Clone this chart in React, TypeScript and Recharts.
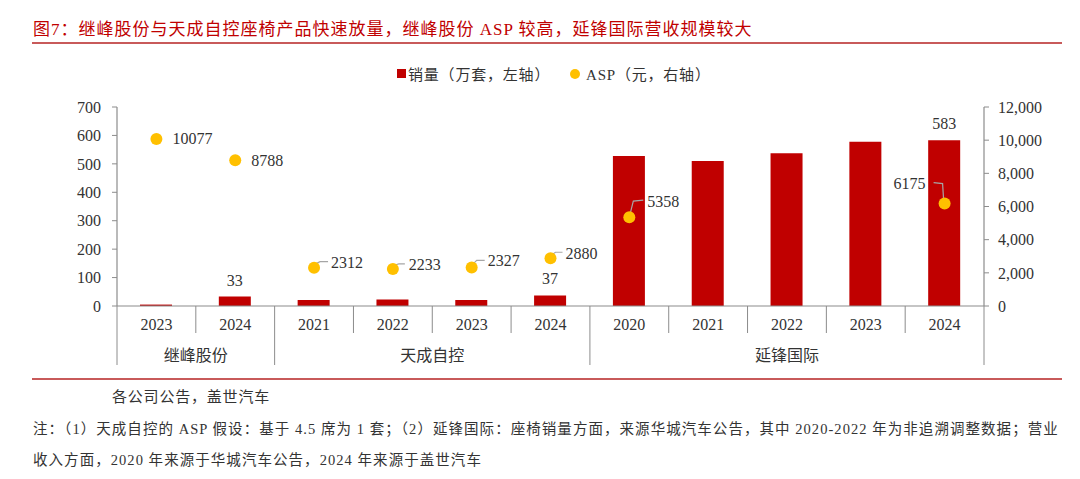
import React from 'react';
import { ComposedChart, Bar, Scatter, XAxis, YAxis, LabelList } from 'recharts';

// ---------- data ----------
const groups = ['继峰股份', '继峰股份', '天成自控', '天成自控', '天成自控', '天成自控', '延锋国际', '延锋国际', '延锋国际', '延锋国际', '延锋国际'];
const years = ['2023', '2024', '2021', '2022', '2023', '2024', '2020', '2021', '2022', '2023', '2024'];
const volume = [5, 33, 21, 23, 21, 37, 528, 510, 537, 578, 583];
const volumeLabels = ['', '33', '', '', '', '37', '', '', '', '', '583'];
const asp: (number | null)[] = [10077, 8788, 2312, 2233, 2327, 2880, 5358, null, null, null, 6175];
const leftTicks = [0, 100, 200, 300, 400, 500, 600, 700];
const rightTicks = [0, 2000, 4000, 6000, 8000, 10000, 12000];

const data = years.map((year, i) => ({
  key: `${groups[i]}-${year}-${i}`,
  i,
  year,
  group: groups[i],
  vol: volume[i],
  volLabel: volumeLabels[i],
  asp: asp[i],
}));

// ---------- layout / style ----------
const W = 1080;
const H = 479;
const MARGIN = { top: 107, right: 16, bottom: 113, left: 57 };
const LEFT_W = 60;
const RIGHT_W = 80;
const XAXIS_H = 60;
const PLOT_W = W - MARGIN.left - MARGIN.right - LEFT_W - RIGHT_W;
const BAND = PLOT_W / data.length;

const RED = '#C00000';
const GOLD = '#FFC000';
const AXIS = '#8c8c8c';
const TEXT = '#333333';
const LEAD = '#a6a6a6';
const SERIF = '"Liberation Serif", "Times New Roman", "Noto Sans CJK SC", serif';
const CJK = '"Liberation Serif", "Noto Sans CJK SC", serif';

// label placement for ASP points (dx, dy relative to dot; leader polyline)
const ASP_LABEL_STYLE: Record<number, { dx: number; dy: number; anchor: 'start' | 'end'; leader?: [number, number][] }> = {
  0: { dx: 16, dy: 0, anchor: 'start' },
  1: { dx: 16, dy: 0, anchor: 'start' },
  2: { dx: 17, dy: -5, anchor: 'start', leader: [[2, -4], [6, -6], [14, -6]] },
  3: { dx: 16, dy: -4, anchor: 'start', leader: [[2, -4], [6, -5], [12, -5]] },
  4: { dx: 16, dy: -7, anchor: 'start', leader: [[2, -4], [5, -7], [13, -7]] },
  5: { dx: 15, dy: -5, anchor: 'start', leader: [[2, -4], [5, -6], [12, -6]] },
  6: { dx: 18, dy: -16, anchor: 'start', leader: [[1, -4], [4, -16], [14, -17]] },
  10: { dx: -19, dy: -20, anchor: 'end', leader: [[-1, -4], [-2, -20], [-11, -21]] },
};

const AspDot = (props: any) => {
  const { cx, cy, payload } = props;
  if (payload == null || payload.asp == null || cx == null || cy == null || isNaN(cy)) return <g />;
  const st = ASP_LABEL_STYLE[payload.i] || { dx: 16, dy: 0, anchor: 'start' };
  return (
    <g>
      {st.leader && (
        <polyline
          points={st.leader.map(([a, b]) => `${cx + a},${cy + b}`).join(' ')}
          fill="none"
          stroke={LEAD}
          strokeWidth={1.2}
        />
      )}
      <circle cx={cx} cy={cy} r={6} fill={GOLD} />
      <text
        x={cx + st.dx}
        y={cy + st.dy}
        textAnchor={st.anchor}
        dominantBaseline="central"
        fontFamily={SERIF}
        fontSize={16}
        fill={TEXT}
      >
        {payload.asp}
      </text>
    </g>
  );
};

const VolLabel = (props: any) => {
  const { x, y, width, value } = props;
  if (!value) return null;
  return (
    <text x={x + width / 2} y={y - 11} textAnchor="middle" fontFamily={SERIF} fontSize={16} fill={TEXT}>
      {value}
    </text>
  );
};

const CategoryTick = (props: any) => {
  const { x, y, payload } = props;
  const idx = data.findIndex((d) => d.key === payload.value);
  if (idx < 0) return null;
  const left = x - BAND / 2;
  const first = idx === 0 || groups[idx] !== groups[idx - 1];
  const last = idx === data.length - 1;
  let n = 0;
  if (first) {
    for (let k = idx; k < groups.length && groups[k] === groups[idx]; k++) n++;
  }
  return (
    <g>
      <line x1={left} y1={y} x2={left} y2={y + (first ? 59 : 27)} stroke={AXIS} strokeWidth={1} />
      {last && <line x1={x + BAND / 2} y1={y} x2={x + BAND / 2} y2={y + 59} stroke={AXIS} strokeWidth={1} />}
      <text x={x} y={y + 18} textAnchor="middle" dominantBaseline="central" fontFamily={SERIF} fontSize={16} fill={TEXT}>
        {data[idx].year}
      </text>
      {first && (
        <text
          x={left + (n * BAND) / 2}
          y={y + 49}
          textAnchor="middle"
          dominantBaseline="central"
          fontFamily={CJK}
          fontSize={16}
          fill={TEXT}
        >
          {groups[idx]}
        </text>
      )}
    </g>
  );
};

const fmt = (v: number) => v.toLocaleString('en-US');

export default function App() {
  return (
    <div
      style={{
        position: 'absolute',
        left: 0,
        top: 0,
        width: W,
        height: H,
        background: '#fff',
        fontFamily: CJK,
        color: TEXT,
        overflow: 'hidden',
      }}
    >
      <div style={{ position: 'absolute', left: 0, top: 0 }}>
        <ComposedChart width={W} height={H} data={data} margin={MARGIN}>
          <XAxis
            dataKey="key"
            xAxisId="x"
            type="category"
            interval={0}
            tickLine={false}
            tickSize={0}
            tickMargin={0}
            height={XAXIS_H}
            axisLine={{ stroke: AXIS, strokeWidth: 1.2 }}
            tick={<CategoryTick />}
          />
          <YAxis
            yAxisId="left"
            orientation="left"
            width={LEFT_W}
            domain={[0, 700]}
            ticks={leftTicks}
            interval={0}
            tickSize={5}
            tickMargin={11}
            axisLine={{ stroke: AXIS, strokeWidth: 1.2 }}
            tickLine={{ stroke: AXIS }}
            tick={{ fontFamily: SERIF, fontSize: 16, fill: TEXT }}
          />
          <YAxis
            yAxisId="right"
            orientation="right"
            width={RIGHT_W}
            domain={[0, 12000]}
            ticks={rightTicks}
            interval={0}
            tickSize={5}
            tickMargin={9}
            tickFormatter={fmt}
            axisLine={{ stroke: AXIS, strokeWidth: 1.2 }}
            tickLine={{ stroke: AXIS }}
            tick={{ fontFamily: SERIF, fontSize: 16, fill: TEXT, textAnchor: 'start' }}
          />
          <Bar dataKey="vol" xAxisId="x" yAxisId="left" fill={RED} barSize={32} isAnimationActive={false}>
            <LabelList dataKey="volLabel" content={<VolLabel />} />
          </Bar>
          <Scatter dataKey="asp" xAxisId="x" yAxisId="right" fill={GOLD} shape={<AspDot />} isAnimationActive={false} />
        </ComposedChart>
      </div>

      {/* title */}
      <div style={{ position: 'absolute', left: 33, top: 15, fontSize: 17, letterSpacing: 1, color: RED, whiteSpace: 'nowrap' }}>
        图7：继峰股份与天成自控座椅产品快速放量，继峰股份 ASP 较高，延锋国际营收规模较大
      </div>
      <div style={{ position: 'absolute', left: 32, top: 42, width: 1030, height: 2, background: '#c85a5a' }} />

      {/* legend */}
      <div style={{ position: 'absolute', left: 397, top: 69, width: 9, height: 9, background: RED }} />
      <div style={{ position: 'absolute', left: 408, top: 63, fontSize: 15, letterSpacing: 0.8, whiteSpace: 'nowrap' }}>销量（万套，左轴）</div>
      <div style={{ position: 'absolute', left: 570, top: 69, width: 10, height: 10, borderRadius: 5, background: GOLD }} />
      <div style={{ position: 'absolute', left: 586, top: 63, fontSize: 15, letterSpacing: 0.8, whiteSpace: 'nowrap' }}>ASP（元，右轴）</div>

      {/* footer */}
      <div style={{ position: 'absolute', left: 32, top: 378, width: 1030, height: 2, background: '#c85a5a' }} />
      <div style={{ position: 'absolute', left: 112, top: 385, fontSize: 15, letterSpacing: 0.8, whiteSpace: 'nowrap' }}>各公司公告，盖世汽车</div>
      <div style={{ position: 'absolute', left: 33, top: 417, fontSize: 14.5, letterSpacing: 1.05, whiteSpace: 'nowrap' }}>
        注：（1）天成自控的 ASP 假设：基于 4.5 席为 1 套；（2）延锋国际：座椅销量方面，来源华城汽车公告，其中 2020-2022 年为非追溯调整数据；营业
      </div>
      <div style={{ position: 'absolute', left: 33, top: 448, fontSize: 14.5, letterSpacing: 1.05, whiteSpace: 'nowrap' }}>
        收入方面，2020 年来源于华城汽车公告，2024 年来源于盖世汽车
      </div>
    </div>
  );
}
